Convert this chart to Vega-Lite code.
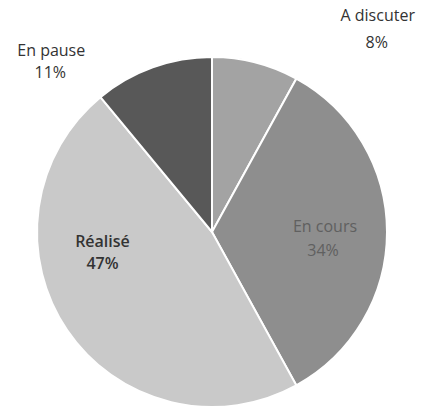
{
  "$schema": "https://vega.github.io/schema/vega-lite/v6.json",
  "autosize": {"type": "none"},
  "width": 424,
  "height": 360,
  "padding": {"left": 0, "top": 52, "right": 8, "bottom": 0},
  "background": "white",
  "config": {"view": {"stroke": null}},
  "data": {"values": [
    {"statut": "A discuter", "part": 0.08, "ordre": 1},
    {"statut": "En cours", "part": 0.34, "ordre": 2},
    {"statut": "Réalisé", "part": 0.47, "ordre": 3},
    {"statut": "En pause", "part": 0.11, "ordre": 4}
  ]},
  "encoding": {
    "theta": {"field": "part", "type": "quantitative", "stack": true},
    "order": {"field": "ordre", "type": "quantitative"}
  },
  "layer": [
    {
      "mark": {"type": "arc", "outerRadius": 175, "stroke": "white", "strokeWidth": 2},
      "encoding": {
        "color": {"field": "statut", "type": "nominal",
          "scale": {"domain": ["A discuter", "En cours", "Réalisé", "En pause"], "range": ["#a3a3a3", "#8e8e8e", "#c9c9c9", "#585858"]},
          "legend": null}
      }
    },
    {
      "mark": {"type": "text", "radius": 220, "dx": 111, "dy": -3, "fontSize": 16, "font": "Open Sans", "fill": "#333333"},
      "encoding": {"text": {"condition": {"test": "datum.statut === 'A discuter'", "field": "statut", "type": "nominal"}, "value": ""}}
    },
    {
      "mark": {"type": "text", "radius": 220, "dx": 110, "dy": 24, "fontSize": 16, "font": "Open Sans", "fill": "#333333"},
      "encoding": {"text": {"condition": {"test": "datum.statut === 'A discuter'", "field": "part", "type": "quantitative", "format": ".0%"}, "value": ""}}
    },
    {
      "mark": {"type": "text", "radius": 113, "dx": 0, "dy": -5, "fontSize": 16, "font": "Open Sans", "fill": "#606060"},
      "encoding": {"text": {"condition": {"test": "datum.statut === 'En cours'", "field": "statut", "type": "nominal"}, "value": ""}}
    },
    {
      "mark": {"type": "text", "radius": 113, "dx": -2, "dy": 19, "fontSize": 16, "font": "Open Sans", "fill": "#606060"},
      "encoding": {"text": {"condition": {"test": "datum.statut === 'En cours'", "field": "part", "type": "quantitative", "format": ".0%"}, "value": ""}}
    },
    {
      "mark": {"type": "text", "radius": 130, "dx": -2, "dy": -63, "fontSize": 16, "font": "Open Sans", "fontWeight": 600, "fill": "#333333"},
      "encoding": {"text": {"condition": {"test": "datum.statut === 'Réalisé'", "field": "statut", "type": "nominal"}, "value": ""}}
    },
    {
      "mark": {"type": "text", "radius": 130, "dx": -2, "dy": -41, "fontSize": 16, "font": "Open Sans", "fontWeight": 600, "fill": "#333333"},
      "encoding": {"text": {"condition": {"test": "datum.statut === 'Réalisé'", "field": "part", "type": "quantitative", "format": ".0%"}, "value": ""}}
    },
    {
      "mark": {"type": "text", "radius": 200, "dx": -93, "dy": 7, "fontSize": 16, "font": "Open Sans", "fill": "#333333"},
      "encoding": {"text": {"condition": {"test": "datum.statut === 'En pause'", "field": "statut", "type": "nominal"}, "value": ""}}
    },
    {
      "mark": {"type": "text", "radius": 200, "dx": -94, "dy": 29, "fontSize": 16, "font": "Open Sans", "fill": "#333333"},
      "encoding": {"text": {"condition": {"test": "datum.statut === 'En pause'", "field": "part", "type": "quantitative", "format": ".0%"}, "value": ""}}
    }
  ]
}
